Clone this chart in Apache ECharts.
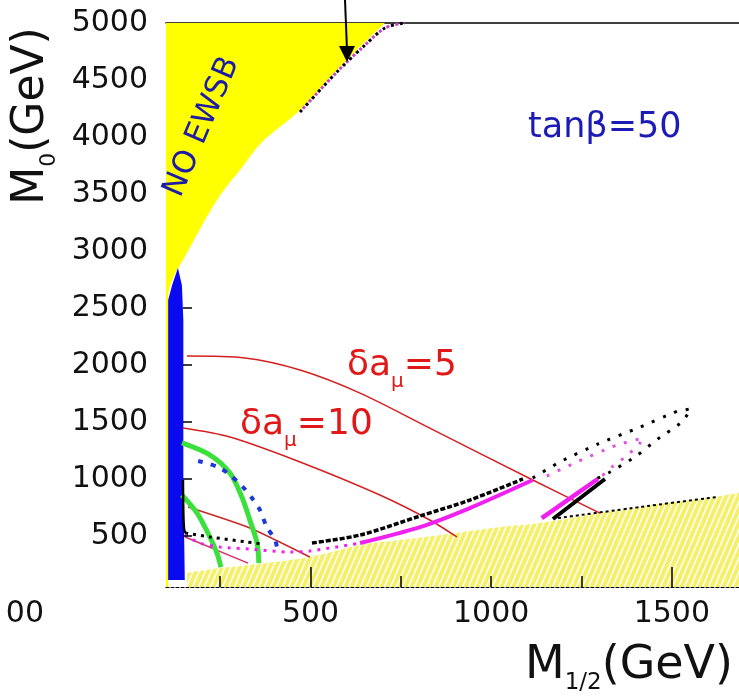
<!DOCTYPE html>
<html>
<head>
<meta charset="utf-8">
<script src="https://cdn.jsdelivr.net/npm/echarts@6/dist/echarts.min.js"></script>
<style>
  html, body { margin: 0; padding: 0; background: #ffffff; }
  #chart { width: 739px; height: 698px; }
</style>
</head>
<body>
<div id="chart"></div>
<script>
// mSUGRA plane: M1/2 (GeV) horizontally, M0 (GeV) vertically, tan(beta) = 50
const X_MIN = 100, X_MAX = 1686, Y_MIN = 50, Y_MAX = 5000;

const xLabelValues = [500, 1000, 1500];
const xTickValues = [250, 750, 1000, 1250];
const xLongTickValues = [500, 1500];
const yLabelValues = [500, 1000, 1500, 2000, 2500, 3000, 3500, 4000, 4500, 5000];
const yTickValues = [500, 1000, 1500, 2000, 2500];

// edge of the region without electroweak symmetry breaking (top to bottom)
const noEwsbEdge = [[706, 5000], [651, 4833], [573, 4587], [471, 4236], [366, 3956], [305, 3710],
  [241, 3446], [158, 2981], [117, 2744], [103, 2569]];
// thin no-EWSB band along the left edge
const noEwsbBand = [[100, 50], [100, 5000], [106, 5000], [106, 50]];
// excluded strip at small M1/2
const blueStrip = [[106, 111], [106, 2569], [117, 2700], [133, 2850], [144, 2700], [148, 2393],
  [148, 989], [152, 111]];
// upper edge of the hatched region at small M0 (left to right)
const hatchEdge = [[158, 173], [249, 216], [332, 243], [498, 313], [637, 418], [747, 462], [905, 524],
  [1024, 576], [1135, 611], [1301, 699], [1467, 778], [1578, 822], [1686, 875]];

// delta a_mu contours
const damu5 = [[158, 2077], [319, 2060], [471, 1954], [637, 1752], [830, 1445], [1115, 989], [1301, 699]];
const damu10 = [[147, 1445], [277, 1366], [471, 1147], [692, 857], [830, 638], [905, 489]];
const damu20 = [[161, 752], [332, 568], [498, 313]];
const damu40 = [[153, 489], [327, 260]];

// green and blue contours at low M1/2
const greenOuter = [[144, 1314], [222, 1208], [277, 1050], [310, 840], [332, 638], [352, 436], [357, 260]];
const greenInner = [[144, 857], [186, 699], [216, 524], [241, 348], [252, 225]];
const blueDashed = [[189, 1156], [244, 1103], [277, 1033], [313, 927], [338, 831], [360, 726],
  [379, 576], [402, 462], [410, 348]];

// black and magenta bands
const blackWall = [[147, 989], [148, 700], [150, 560], [153, 524]];
const blackLowLeft = [[153, 524], [222, 489], [324, 445], [368, 427]];
const blackLowRight = [[504, 436], [637, 506], [803, 673], [941, 813], [1088, 998]];
const magentaLowDots = [[153, 506], [194, 436], [249, 401], [332, 383], [443, 357], [498, 366], [637, 436]];
const magentaLowSolid = [[637, 436], [803, 576], [941, 743], [1115, 989]];
const blackLoop = [[1115, 1006], [1190, 1147], [1295, 1305], [1406, 1445], [1517, 1594], [1553, 1612],
  [1528, 1498], [1461, 1349], [1398, 1191], [1329, 1059], [1273, 971]];
const magentaLoop = [[1154, 1024], [1237, 1147], [1348, 1296], [1420, 1357], [1412, 1314], [1378, 1208],
  [1334, 1103], [1301, 1006]];
const blackCross = [[1171, 647], [1315, 998]];
const magentaCross = [[1140, 655], [1295, 998]];
const blackHatchDots = [[1185, 655], [1412, 752], [1625, 840]];
const topDots = [[471, 4219], [573, 4570], [651, 4807], [706, 4956], [761, 5000]];

const arrowTip = [601, 4658];

const FONT = 'DejaVu Sans';

function hatchPattern() {
  const c = document.createElement('canvas');
  c.width = 6; c.height = 14;
  const g = c.getContext('2d');
  g.fillStyle = '#f5f06a';
  g.fillRect(0, 0, 6, 14);
  g.strokeStyle = '#ffffff';
  g.lineWidth = 1.5;
  for (const dx of [-6, 0, 6]) {
    g.beginPath(); g.moveTo(dx, 14); g.lineTo(dx + 6, 0); g.stroke();
  }
  return c;
}

// Catmull-Rom spline through pixel points, as cubic path segments
function splineSegments(pts) {
  let d = '';
  for (let i = 0; i < pts.length - 1; i++) {
    const p0 = pts[i - 1] || pts[i], p1 = pts[i], p2 = pts[i + 1], p3 = pts[i + 2] || pts[i + 1];
    const c1 = [p1[0] + (p2[0] - p0[0]) / 6, p1[1] + (p2[1] - p0[1]) / 6];
    const c2 = [p2[0] - (p3[0] - p1[0]) / 6, p2[1] - (p3[1] - p1[1]) / 6];
    d += ' C ' + c1[0] + ' ' + c1[1] + ' ' + c2[0] + ' ' + c2[1] + ' ' + p2[0] + ' ' + p2[1];
  }
  return d;
}

// closed region: straight corners before, a smooth edge, straight corners after
function smoothRegion(before, edge, after, fill, z) {
  return {
    type: 'custom', z, silent: true, data: edge,
    renderItem(params, api) {
      if (params.dataIndex !== 0) return null;
      const b = before.map(p => api.coord(p));
      const e = edge.map(p => api.coord(p));
      const a = after.map(p => api.coord(p));
      let d = 'M ' + b[0][0] + ' ' + b[0][1];
      b.slice(1).concat([e[0]]).forEach(p => { d += ' L ' + p[0] + ' ' + p[1]; });
      d += splineSegments(e);
      a.forEach(p => { d += ' L ' + p[0] + ' ' + p[1]; });
      d += ' Z';
      return { type: 'path', shape: { pathData: d }, style: { fill } };
    }
  };
}

function areaSeries(points, fill, z) {
  return {
    type: 'custom', z, silent: true, data: points,
    renderItem(params, api) {
      if (params.dataIndex !== 0) return null;
      return { type: 'polygon', shape: { points: points.map(p => api.coord(p)) }, style: { fill } };
    }
  };
}

function curve(points, color, width, type, smooth, z, dashOffset) {
  return {
    type: 'line', data: points, symbol: 'none', showSymbol: false, smooth, silent: true, z: z || 4,
    lineStyle: { color, width, type, dashOffset: dashOffset || 0, cap: 'butt' }
  };
}

const chart = echarts.init(document.getElementById('chart'), null, { renderer: 'canvas' });

const axisFont = { fontFamily: FONT, fontSize: 30, color: '#111111', formatter: v => String(v) };
const lastHatch = hatchEdge[hatchEdge.length - 1];

chart.setOption({
  animation: false,
  textStyle: { fontFamily: FONT },
  grid: { left: 166, top: 23, right: 0, bottom: 111, containLabel: false, outerBoundsMode: 'none' },
  xAxis: [{
    type: 'value', position: 'bottom', min: X_MIN, max: X_MAX, z: 10,
    axisLine: { show: true, lineStyle: { color: '#000000', width: 1.2, type: [3, 2] } },
    axisTick: { show: true, inside: true, length: 11, customValues: xTickValues, lineStyle: { color: '#000000', width: 1.5 } },
    axisLabel: Object.assign({ customValues: xLabelValues, margin: 12 }, axisFont),
    splitLine: { show: false }
  }, {
    type: 'value', position: 'top', min: X_MIN, max: X_MAX, z: 0,
    axisLine: { show: true, lineStyle: { color: '#000000', width: 1.5 } },
    axisTick: { show: false }, axisLabel: { show: false }, splitLine: { show: false }
  }, {
    // longer inner ticks at the labelled values
    type: 'value', position: 'bottom', min: X_MIN, max: X_MAX, z: 10,
    axisLine: { show: false },
    axisTick: { show: true, inside: true, length: 20, customValues: xLongTickValues, lineStyle: { color: '#000000', width: 1.5 } },
    axisLabel: { show: false }, splitLine: { show: false }
  }],
  yAxis: {
    type: 'value', min: Y_MIN, max: Y_MAX, offset: -17, z: 10,
    axisLine: { show: false },
    axisTick: { show: true, inside: true, length: 9, customValues: yTickValues, lineStyle: { color: '#000000', width: 1.5 } },
    axisLabel: Object.assign({ customValues: yLabelValues, margin: 35 }, axisFont),
    splitLine: { show: false }
  },
  series: [
    smoothRegion([[X_MIN, Y_MAX]], noEwsbEdge, [[X_MIN, noEwsbEdge[noEwsbEdge.length - 1][1]]], '#ffff00', 1),
    areaSeries(noEwsbBand, '#ffff00', 1),
    areaSeries(blueStrip, '#0a0af0', 2),
    smoothRegion([[hatchEdge[0][0], Y_MIN]], hatchEdge, [[lastHatch[0], Y_MIN]],
      { image: hatchPattern(), repeat: 'repeat' }, 2),

    curve(damu5, '#d42020', 1.5, 'solid', 0.3),
    curve(damu10, '#d42020', 1.5, 'solid', 0.3),
    curve(damu20, '#c82828', 1.5, 'solid', 0.2),
    curve(damu40, '#d8306a', 1.5, 'solid', 0),

    curve(greenOuter, '#3ce03c', 5, 'solid', 0.3),
    curve(greenInner, '#3ce03c', 5, 'solid', 0.3),
    curve(blueDashed, '#1c3ad4', 4, [5, 8], 0.3),

    curve(blackWall, '#000000', 2.5, 'solid', 0.3),
    curve(blackLowLeft, '#000000', 3, [3, 5], 0.3),
    curve(magentaLowDots, '#ee22ee', 3, [3, 6], 0.3),
    curve(blackLowRight, '#000000', 3.5, [5, 2], 0.3),
    curve(magentaLowSolid, '#f020f0', 4, 'solid', 0.3),
    curve(blackLoop, '#000000', 3, [3, 9], 0.2),
    curve(magentaLoop, '#dd55dd', 3, [3, 9], 0.2),
    curve(magentaCross, '#f020f0', 4.5, 'solid', 0),
    curve(blackCross, '#000000', 4, 'solid', 0),
    curve(blackHatchDots, '#000000', 2, [3, 3], 0.2),
    curve(topDots, '#000000', 3, [3, 6], 0.3),
    curve(topDots, '#cc44cc', 3, [3, 6], 0.3, 5, 4.5),

    {
      type: 'custom', z: 12, silent: true, data: [arrowTip],
      renderItem(params, api) {
        const tip = api.coord([api.value(0), api.value(1)]);
        return {
          type: 'group',
          children: [
            { type: 'line', shape: { x1: tip[0] - 2, y1: 0, x2: tip[0], y2: tip[1] - 12 },
              style: { stroke: '#000000', lineWidth: 2 } },
            { type: 'polygon', shape: { points: [[tip[0] - 8, tip[1] - 16], [tip[0] + 8, tip[1] - 16], [tip[0], tip[1]]] },
              style: { fill: '#000000' } }
          ]
        };
      }
    }
  ],
  graphic: [
    { type: 'text', x: 202, y: 127, rotation: 67 * Math.PI / 180, z: 20,
      style: { text: 'NO EWSB', fontFamily: FONT, fontSize: 31, fill: '#1c1ca8', align: 'center', verticalAlign: 'middle' } },
    { type: 'text', x: 528, y: 128, z: 20,
      style: { text: 'tanβ=50', fontFamily: FONT, fontSize: 35, fill: '#1c1cb4', align: 'left', verticalAlign: 'middle' } },
    { type: 'text', x: 347, y: 368, z: 20,
      style: { text: '{a|δa}{b|μ}{a|=5}', align: 'left', verticalAlign: 'middle',
        rich: { a: { fontFamily: FONT, fontSize: 36, fill: '#e01818', lineHeight: 40, verticalAlign: 'top' },
                b: { fontFamily: FONT, fontSize: 20, fill: '#e01818', lineHeight: 20, padding: [24, 0, 0, 0], verticalAlign: 'top' } } } },
    { type: 'text', x: 240, y: 427, z: 20,
      style: { text: '{a|δa}{b|μ}{a|=10}', align: 'left', verticalAlign: 'middle',
        rich: { a: { fontFamily: FONT, fontSize: 36, fill: '#e01818', lineHeight: 40, verticalAlign: 'top' },
                b: { fontFamily: FONT, fontSize: 20, fill: '#e01818', lineHeight: 20, padding: [24, 0, 0, 0], verticalAlign: 'top' } } } },
    { type: 'text', x: 525, y: 668, z: 20,
      style: { text: '{a|M}{b|1/2}{a|(GeV)}', align: 'left', verticalAlign: 'middle',
        rich: { a: { fontFamily: FONT, fontSize: 46, fill: '#111111', lineHeight: 50, verticalAlign: 'top' },
                b: { fontFamily: FONT, fontSize: 23, fill: '#111111', lineHeight: 23, padding: [29, 0, 0, 0], verticalAlign: 'top' } } } },
    { type: 'text', x: 34, y: 116, rotation: Math.PI / 2, z: 20,
      style: { text: '{a|M}{b|0}{a|(GeV)}', align: 'center', verticalAlign: 'middle',
        rich: { a: { fontFamily: FONT, fontSize: 44, fill: '#111111', lineHeight: 48, verticalAlign: 'top' },
                b: { fontFamily: FONT, fontSize: 22, fill: '#111111', lineHeight: 22, padding: [28, 0, 0, 0], verticalAlign: 'top' } } } },
    { type: 'text', x: 44, y: 614, z: 20,
      style: { text: '00', fontFamily: FONT, fontSize: 30, fill: '#111111', align: 'right', verticalAlign: 'middle' } }
  ]
});
</script>
</body>
</html>
